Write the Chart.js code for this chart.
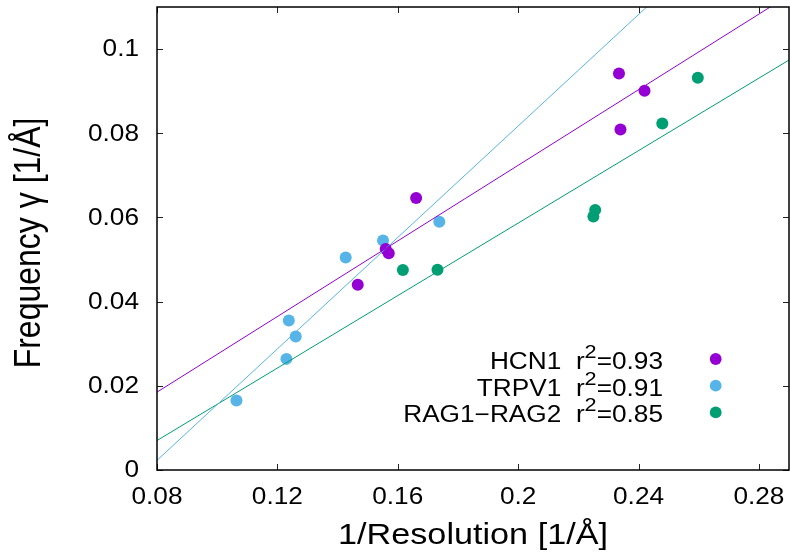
<!DOCTYPE html>
<html><head><meta charset="utf-8">
<script src="https://cdn.jsdelivr.net/npm/chart.js@4/dist/chart.umd.min.js"></script>
<style>html,body{margin:0;padding:0;background:#fff}#wrap{width:790px;height:558px}</style>
</head><body><div id="wrap"><canvas id="c" width="790" height="558"></canvas></div>
<script>
// ---- data ----
const seriesNames = ['HCN1', 'TRPV1', 'RAG1\u2212RAG2'];
const rSquared = ['0.93', '0.91', '0.85'];
const seriesColors = ['#9400D3', '#56B4E9', '#009E73'];

const hcn1X = [0.1467, 0.1560, 0.1570, 0.1661, 0.2335, 0.2420, 0.2340];
const hcn1Y = [0.0440, 0.0525, 0.0515, 0.0646, 0.0942, 0.0901, 0.0809];

const trpv1X = [0.1064, 0.1230, 0.1238, 0.1261, 0.1427, 0.1551, 0.1738];
const trpv1Y = [0.0165, 0.0264, 0.0355, 0.0317, 0.0505, 0.0545, 0.0590];

const ragX = [0.1617, 0.1732, 0.2250, 0.2256, 0.2479, 0.2597];
const ragY = [0.0475, 0.0476, 0.0602, 0.0618, 0.0823, 0.0932];

// fitted lines, read at the two ends of the x range
const fitX = [0.08, 0.29];
const hcn1FitY = [0.0185, 0.1128];
const trpv1FitY = [0.0023, 0.1413];
const ragFitY = [0.0070, 0.0974];

const xTicks = [0.08, 0.12, 0.16, 0.2, 0.24, 0.28];
const xTickLabels = ['0.08', '0.12', '0.16', '0.2', '0.24', '0.28'];
const yTicks = [0, 0.02, 0.04, 0.06, 0.08, 0.1];
const yTickLabels = ['0', '0.02', '0.04', '0.06', '0.08', '0.1'];

const xTitle = '1/Resolution [1/\u00C5]';
const yTitle = 'Frequency \u03B3 [1/\u00C5]';

// ---- rendering ----
const FONT = 'Liberation Sans';
const TEXT_STRETCH = 1.14;

function patchCtx(ctx, sx) {
  const orig = ctx.fillText.bind(ctx);
  ctx.fillText = function (text, x, y, maxWidth) {
    const m = ctx.getTransform();
    const p = m.transformPoint(new DOMPoint(x, y));
    const s = new DOMMatrix().translate(p.x, 0).scale(sx, 1).translate(-p.x, 0);
    ctx.setTransform(s.multiply(m));
    if (maxWidth !== undefined && maxWidth !== null) orig(text, x, y, maxWidth);
    else orig(text, x, y);
    ctx.setTransform(m);
  };
}

function pts(xs, ys) { return xs.map((x, i) => ({x: x, y: ys[i]})); }

const scatterSets = [[hcn1X, hcn1Y], [trpv1X, trpv1Y], [ragX, ragY]].map((s, i) => ({
  label: seriesNames[i],
  data: pts(s[0], s[1]),
  showLine: false,
  pointRadius: 6,
  pointHoverRadius: 6,
  pointBorderWidth: 0,
  backgroundColor: seriesColors[i],
  borderColor: seriesColors[i],
  order: 1
}));
const lineSets = [hcn1FitY, trpv1FitY, ragFitY].map((f, i) => ({
  label: seriesNames[i] + ' fit',
  data: pts(fitX, f),
  showLine: true,
  pointRadius: 0,
  borderWidth: 1,
  borderColor: seriesColors[i],
  backgroundColor: seriesColors[i],
  fill: false,
  order: 0
}));

const framePlugin = {
  id: 'frame',
  beforeInit(chart) { patchCtx(chart.ctx, TEXT_STRETCH); },
  afterDatasetsDraw(chart) {
    const {ctx, chartArea: a, scales: {x, y}} = chart;
    const T = 6;
    ctx.save();
    ctx.strokeStyle = '#222';
    ctx.lineWidth = 1;
    ctx.beginPath();
    x.ticks.forEach(t => {
      const px = Math.round(x.getPixelForValue(t.value)) + 0.5;
      ctx.moveTo(px, a.bottom); ctx.lineTo(px, a.bottom - T);
      ctx.moveTo(px, a.top); ctx.lineTo(px, a.top + T);
    });
    y.ticks.forEach(t => {
      const py = Math.round(y.getPixelForValue(t.value)) + 0.5;
      ctx.moveTo(a.left, py); ctx.lineTo(a.left + T, py);
      ctx.moveTo(a.right, py); ctx.lineTo(a.right - T, py);
    });
    ctx.stroke();
    ctx.strokeStyle = '#000';
    ctx.lineWidth = 1.5;
    ctx.strokeRect(a.left, a.top, a.right - a.left, a.bottom - a.top);
    ctx.restore();
  },
  afterDraw(chart) {
    const {ctx, chartArea: a} = chart;
    ctx.save();
    ctx.fillStyle = '#000';
    ctx.textAlign = 'left';
    ctx.textBaseline = 'alphabetic';
    const mainFont = '23px "' + FONT + '"';
    const supFont = '19px "' + FONT + '"';
    seriesNames.forEach((name, i) => {
      const base = a.bottom - 101 + i * 26.7;
      const t1 = name + '  r', t2 = '2', t3 = '=' + rSquared[i];
      ctx.font = mainFont;
      const w1 = ctx.measureText(t1).width, w3 = ctx.measureText(t3).width;
      ctx.font = supFont;
      const w2 = ctx.measureText(t2).width;
      let x0 = a.right - 126 - (w1 + w2 + w3) * TEXT_STRETCH;
      ctx.font = mainFont;
      ctx.fillText(t1, x0, base);
      x0 += w1 * TEXT_STRETCH;
      ctx.font = supFont;
      ctx.fillText(t2, x0, base - 11);
      x0 += w2 * TEXT_STRETCH;
      ctx.font = mainFont;
      ctx.fillText(t3, x0, base);
      ctx.beginPath();
      ctx.fillStyle = seriesColors[i];
      ctx.arc(a.right - 73.3, base - 10, 5.9, 0, Math.PI * 2);
      ctx.fill();
      ctx.fillStyle = '#000';
    });
    ctx.restore();
  }
};

new Chart(document.getElementById('c'), {
  type: 'scatter',
  data: {datasets: scatterSets.concat(lineSets)},
  options: {
    responsive: false,
    animation: false,
    devicePixelRatio: 1,
    events: [],
    layout: {autoPadding: false, padding: {top: 7, right: 1, bottom: 0, left: 0}},
    plugins: {legend: {display: false}, tooltip: {enabled: false}},
    scales: {
      x: {
        type: 'linear', position: 'bottom', min: 0.08, max: 0.29,
        afterBuildTicks: s => { s.ticks = xTicks.map(v => ({value: v})); },
        afterFit: s => { s.height = 88; s.paddingLeft = 0; s.paddingRight = 0; },
        grid: {display: false, drawTicks: false},
        border: {display: false},
        ticks: {
          padding: 14, color: '#000', autoSkip: false, maxRotation: 0,
          font: {family: FONT, size: 23},
          callback: (v, i) => xTickLabels[i]
        },
        title: {display: true, text: xTitle, color: '#000',
          font: {family: FONT, size: 30}, padding: {top: 0, bottom: 4}}
      },
      y: {
        type: 'linear', position: 'left', min: 0, max: 0.11,
        afterBuildTicks: s => { s.ticks = yTicks.map(v => ({value: v})); },
        afterFit: s => { s.width = 157; s.paddingTop = 0; s.paddingBottom = 0; },
        grid: {display: false, drawTicks: false},
        border: {display: false},
        ticks: {
          padding: 18, labelOffset: 1, color: '#000', autoSkip: false,
          font: {family: FONT, size: 23},
          callback: (v, i) => yTickLabels[i]
        },
        title: {display: true, text: yTitle + ' ', color: '#000',
          font: {family: FONT, size: 32}, padding: {top: 11, bottom: 0}}
      }
    }
  },
  plugins: [framePlugin]
});
</script>
</body></html>
